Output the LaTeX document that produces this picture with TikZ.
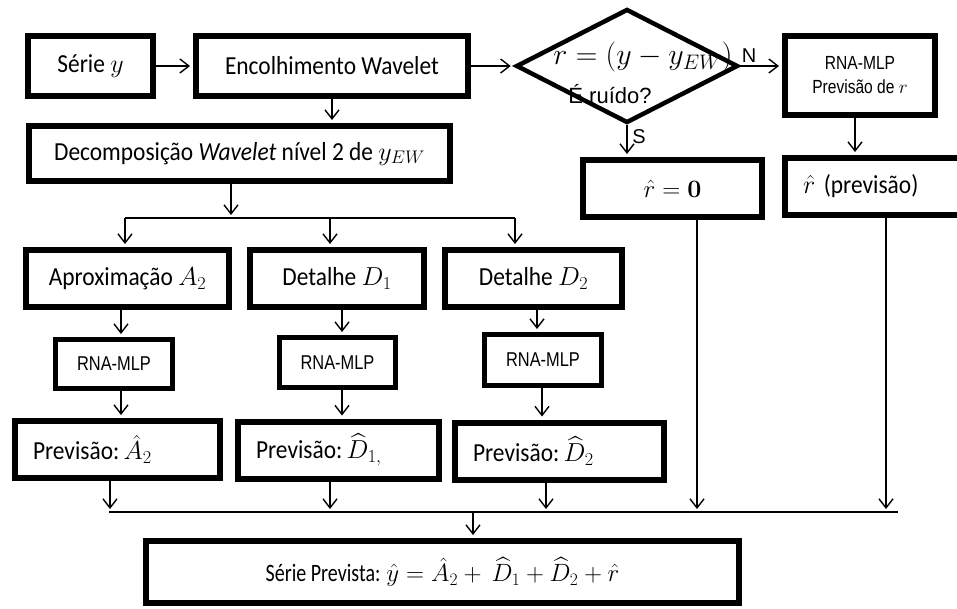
\RequirePackage{fix-cm}
\documentclass[tikz,border=0pt]{standalone}
\usepackage{amsmath}
\usepackage{amssymb}
\usepackage[no-math]{fontspec}
\setmainfont{Carlito}[FakeStretch=0.9]
\newfontfamily\arialfont{Liberation Sans}
\newfontfamily\narrowarial{Liberation Sans}[FakeStretch=0.82]
\newfontfamily\narrowcarlito{Carlito}[FakeStretch=0.8]
\usetikzlibrary{shapes.geometric,arrows.meta}

\begin{document}
\begin{tikzpicture}[x=1pt,y=-1pt,
  box/.style={draw, line width=6pt, inner sep=0pt, font=\fontsize{26}{30}\selectfont},
  mlpbox/.style={draw, line width=5pt, inner sep=0pt, font=\narrowarial\fontsize{20}{22}\selectfont},
  prevbox/.style={box, inner xsep=18pt, align=left, minimum height=57pt},
  arr/.style={line width=1.4pt, shorten >=3pt, -{Straight Barb[length=9pt,width=14pt,line width=1.4pt]}},
  bus/.style={line width=1.4pt},
  lbl/.style={inner sep=0pt, font=\arialfont\fontsize{20}{22}\selectfont}]

% Frame
\useasboundingbox (0,0) rectangle (957,608);
\clip (0,0) rectangle (957,608);

% First row
\node[box, minimum width=125pt, minimum height=60pt] (serie) at (90.5,66) {Série $y$};
\node[box, minimum width=272pt, minimum height=60pt] (encolh) at (332,66) {Encolhimento Wavelet};
\node[draw, diamond, line width=4.5pt, minimum width=222pt, minimum height=114pt, inner sep=0pt] (ruido) at (627,66) {};
\node[inner sep=0pt, font=\fontsize{30}{34}\selectfont] (eqr) at (643,57) {$r = (y - y_{EW})$};
\node[lbl, font=\arialfont\fontsize{22}{24}\selectfont] (pergunta) at (610,94) {É ruído?};
\node[box, align=center, minimum width=150pt, minimum height=79pt,
      font=\narrowarial\fontsize{19}{24}\selectfont] (rnaR) at (860,75.5) {RNA-MLP\\Previsão de $r$};

% Second row
\node[box, minimum width=421pt, minimum height=55pt] (decomp) at (239.5,153.5)
  {Decomposição \textit{Wavelet} nível 2 de $y_{EW}$};
\node[box, minimum width=179pt, minimum height=57pt, font=\fontsize{25}{30}\selectfont] (r0) at (672.5,188.5) {$\hat{r} = \mathbf{0}$};
\node[prevbox, text width=154pt] (rprev) at (880,186.5) {$\hat{r}$ (previsão)};

% Components
\node[box, minimum width=203pt, minimum height=57pt] (aprox) at (127.5,278.5) {Aproximação $A_2$};
\node[box, minimum width=174pt, minimum height=57pt] (det1) at (337,278.5) {Detalhe $D_1$};
\node[box, minimum width=177pt, minimum height=57pt] (det2) at (533.5,278.5) {Detalhe $D_2$};

\node[mlpbox, minimum width=117pt, minimum height=49pt] (rnaA) at (114,364) {RNA-MLP};
\node[mlpbox, minimum width=116pt, minimum height=50pt] (rnaD1) at (337.5,362.5) {RNA-MLP};
\node[mlpbox, minimum width=117pt, minimum height=51pt] (rnaD2) at (543,360) {RNA-MLP};

\node[prevbox, text width=169pt] (prevA) at (117.5,449.5) {Previsão:\,$\hat{A}_2$};
\node[prevbox, text width=165pt] (prevD1) at (338.5,450) {Previsão:\,$\widehat{D}_{1,}$};
\node[prevbox, text width=173pt] (prevD2) at (559.5,451) {Previsão:\,$\widehat{D}_2$};

% Result
\node[box, minimum width=593pt, minimum height=62pt, font=\narrowcarlito\fontsize{25}{29}\selectfont] (final) at (442.5,572)
  {Série Prevista: $\hat{y} = \hat{A}_2 +\ \widehat{D}_1 + \widehat{D}_2 + \hat{r}$};

% Top arrows
\draw[arr] (serie) -- (encolh);
\draw[arr] (encolh) -- (ruido);
\draw[arr] (ruido.east) -- (rnaR.west |- ruido.east);
\node[lbl] (lblN) at (749,56) {N};
\draw[arr] (ruido.south) -- (r0.north -| ruido.south);
\node[lbl] (lblS) at (639,137) {S};
\draw[arr] (rnaR.south) ++(-5,0) -- ++(0,37);
\draw[arr] (encolh.south) -- (encolh.south |- decomp.north);

% Branch under decomposition
\coordinate (split) at (231,218);
\coordinate (splitL) at (125,218);
\coordinate (splitM) at (330,218);
\coordinate (splitR) at (515,218);
\draw[arr] (decomp.south -| split) -- (split);
\draw[bus] (splitL) -- (splitR);
\draw[arr] (splitL) -- (splitL |- aprox.north);
\draw[arr] (splitM) -- (splitM |- det1.north);
\draw[arr] (splitR) -- (splitR |- det2.north);

% Components to networks to forecasts
\draw[arr] (aprox.south -| 121,0) -- (121,0 |- rnaA.north);
\draw[arr] (rnaA.south -| 121,0) -- (121,0 |- prevA.north);
\draw[arr] (det1.south -| 342,0) -- (342,0 |- rnaD1.north);
\draw[arr] (rnaD1.south -| 342,0) -- (342,0 |- prevD1.north);
\draw[arr] (det2.south -| 537,0) -- (537,0 |- rnaD2.north);
\draw[arr] (rnaD2.south -| 542,0) -- (542,0 |- prevD2.north);

% Bus to the sum
\coordinate (busL) at (109,512);
\coordinate (busR) at (898,512);
\coordinate (busF) at (473,512);
\draw[bus] (busL) -- (busR);
\foreach \n/\x in {prevA/110, prevD1/330, prevD2/546, r0/697, rprev/886} {
  \coordinate (j\n) at (\x,512);
  \draw[arr] (\n.south -| j\n) -- (j\n);
}
\draw[arr] (busF) -- (busF |- final.north);

\end{tikzpicture}
\end{document}
